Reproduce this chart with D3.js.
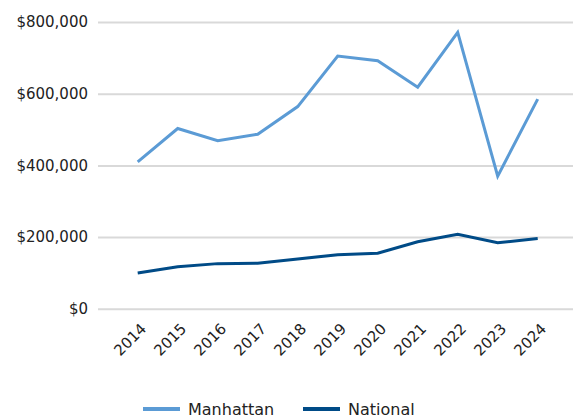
<!DOCTYPE html>
<html>
<head>
<meta charset="utf-8">
<script src="https://cdn.jsdelivr.net/npm/d3@7"></script>
<style>
  body { margin: 0; background: #fff; }
  text { font-family: "DejaVu Sans", "Open Sans", sans-serif; fill: #222; }
</style>
</head>
<body>
<script>
// data
var years = ["2014","2015","2016","2017","2018","2019","2020","2021","2022","2023","2024"];
var manhattan = [410000, 503000, 469000, 487000, 564000, 705000, 692000, 618000, 771000, 370000, 585000];
var national = [100000, 117000, 126000, 127000, 139000, 151000, 155000, 187000, 208000, 184000, 196000];
var yTicks = [0, 200000, 400000, 600000, 800000];
var seriesNames = ["Manhattan", "National"];
var colors = ["#5b9bd5", "#004b87"];

var w = 573, h = 417;
var svg = d3.select("body").append("svg")
  .attr("width", w)
  .attr("height", h);

// scales
var x = d3.scalePoint().domain(years).range([137.7, 537.7]);
var y = d3.scaleLinear().domain([0, 800000]).range([308.8, 22]);

// gridlines + y labels
var yAxis = d3.axisLeft(y)
  .tickValues(yTicks)
  .tickSize(-(w - 98))
  .tickPadding(10)
  .tickFormat(function(d){ return "$" + d3.format(",")(d); });

var gy = svg.append("g")
  .attr("transform", "translate(98,0)")
  .call(yAxis);
gy.select(".domain").remove();
gy.selectAll(".tick line").attr("stroke", "#d9d9d9").attr("stroke-width", 2);
gy.selectAll(".tick text").style("font-size", "15px").attr("fill", "#222");

// x labels
var xAxis = d3.axisBottom(x).tickSize(0).tickPadding(0);
var gx = svg.append("g")
  .attr("transform", "translate(0,308.8)")
  .call(xAxis);
gx.select(".domain").remove();
gx.selectAll(".tick text")
  .style("font-size", "15px")
  .attr("fill", "#222")
  .attr("text-anchor", "end")
  .attr("dy", 0)
  .attr("transform", "translate(9,21) rotate(-45)");

// lines
var line = d3.line()
  .x(function(d, i){ return x(years[i]); })
  .y(function(d){ return y(d); });

[manhattan, national].forEach(function(s, k){
  svg.append("path")
    .datum(s)
    .attr("fill", "none")
    .attr("stroke", colors[k])
    .attr("stroke-width", 3)
    .attr("d", line);
});

// legend
var legX = [143, 303];
seriesNames.forEach(function(n, k){
  var g = svg.append("g").attr("transform", "translate(" + legX[k] + ",409)");
  g.append("line")
    .attr("x1", 0).attr("x2", 37)
    .attr("y1", 0).attr("y2", 0)
    .attr("stroke", colors[k])
    .attr("stroke-width", 4);
  g.append("text")
    .attr("x", 45)
    .attr("y", 6)
    .style("font-size", "16px")
    .text(n);
});
</script>
</body>
</html>
